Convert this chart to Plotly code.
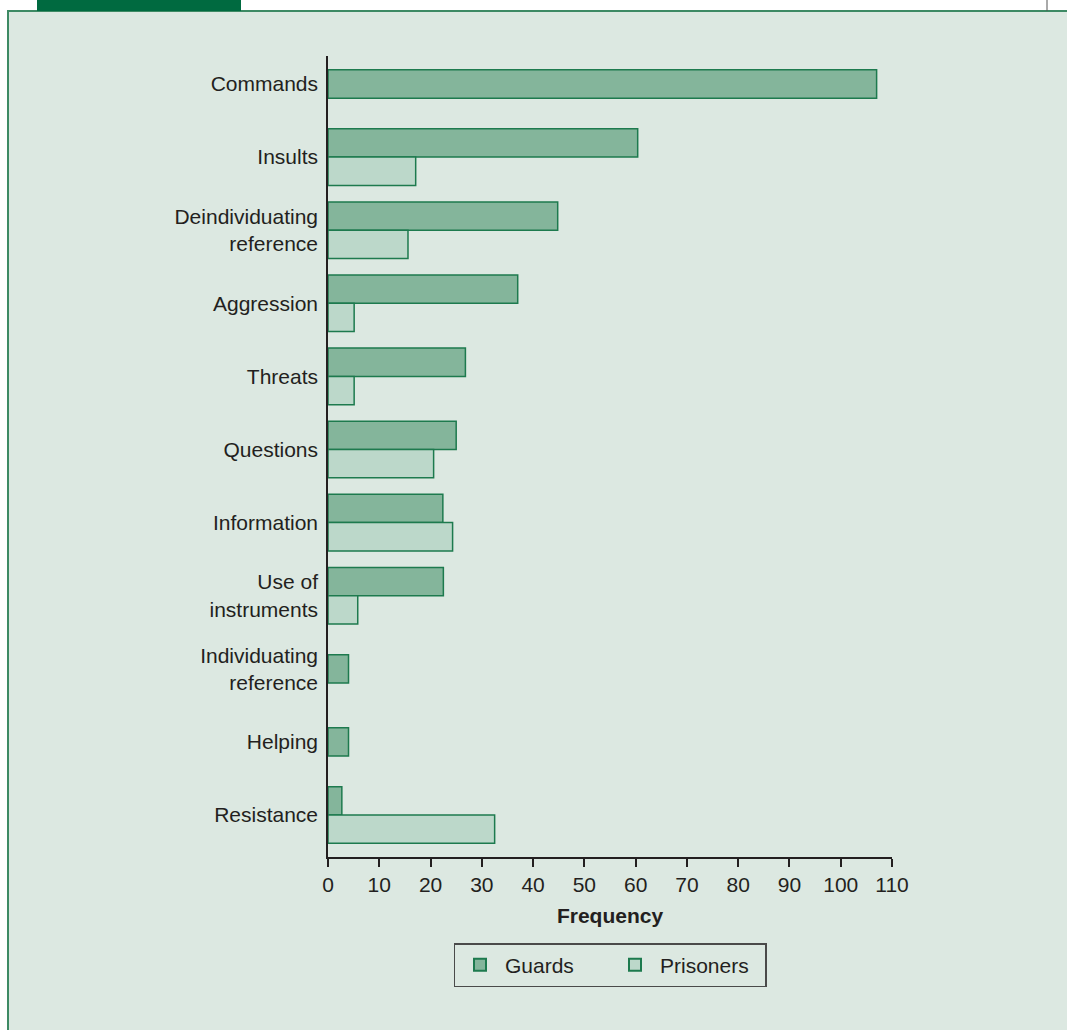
import plotly.graph_objects as go

# ---- data ----
categories = ["Commands", "Insults", "Deindividuating<br>reference", "Aggression",
              "Threats", "Questions", "Information", "Use of<br>instruments",
              "Individuating<br>reference", "Helping", "Resistance"]
guards = [107, 60.4, 44.8, 37, 26.8, 25, 22.4, 22.5, 4, 4, 2.7]
prisoners = [None, 17.1, 15.6, 5.1, 5.1, 20.6, 24.3, 5.8, None, None, 32.5]
x_ticks = list(range(0, 111, 10))

# ---- layout constants (pixels) ----
W, H = 1067, 1030
L, R, T, B = 328, 892, 56, 857
BG = "#dce8e1"
GUARD_FILL = "#84b59b"
PRIS_FILL = "#bcd8ca"
EDGE = "#1d7a4e"
TXT = "#231f20"
FONT = "Liberation Sans, Arial, sans-serif"
FS = 21

def px(xp):
    return (xp - L) / (R - L)

def py(yp):
    return (B - yp) / (B - T)

bw = 0.387
g_offset = [-bw if p is not None else -bw / 2 for p in prisoners]

fig = go.Figure()
fig.add_trace(go.Bar(
    y=categories, x=guards, orientation="h", name="Guards",
    width=bw, offset=g_offset,
    marker=dict(color=GUARD_FILL, line=dict(color=EDGE, width=1.5)),
    hoverinfo="x+y",
))
fig.add_trace(go.Bar(
    y=categories, x=prisoners, orientation="h", name="Prisoners",
    width=bw, offset=0,
    marker=dict(color=PRIS_FILL, line=dict(color=EDGE, width=1.5)),
    hoverinfo="x+y",
))

n = len(categories)
spacing = (815 - 84) / (n - 1)
y_top = 0 - (84 - T) / spacing
y_bot = (n - 1) + (B - 815) / spacing

shapes = [
    # framed panel
    dict(type="rect", xref="paper", yref="paper", layer="below",
         x0=px(8), x1=px(W + 20), y0=py(H + 20), y1=py(11),
         fillcolor=BG, line=dict(color="#3d8a64", width=2)),
    # header tab
    dict(type="rect", xref="paper", yref="paper", layer="below",
         x0=px(37), x1=px(241), y0=py(11), y1=py(-5),
         fillcolor="#006a40", line=dict(width=0)),
    # small right marker
    dict(type="line", xref="paper", yref="paper", layer="below",
         x0=px(1047), x1=px(1047), y0=py(11), y1=py(-5),
         line=dict(color="#555555", width=1)),
]

fig.update_layout(
    width=W, height=H,
    margin=dict(l=L, r=W - R, t=T, b=H - B, pad=0),
    paper_bgcolor="white",
    plot_bgcolor="rgba(0,0,0,0)",
    barmode="overlay",
    font=dict(family=FONT, size=FS, color=TXT),
    shapes=shapes,
    showlegend=True,
    legend=dict(
        orientation="h", x=0.5, xanchor="center", y=py(965), yanchor="middle",
        bgcolor="rgba(0,0,0,0)", bordercolor="#4a4a4a", borderwidth=1.5,
        font=dict(family=FONT, size=FS, color=TXT),
        itemsizing="constant", itemwidth=40,
        entrywidth=100, entrywidthmode="pixels",
    ),
    xaxis=dict(
        range=[0, 110], tickvals=x_ticks, showgrid=False, zeroline=False,
        showline=True, linecolor=TXT, linewidth=1.5,
        ticks="outside", ticklen=8, tickwidth=1.5, tickcolor=TXT,
        tickfont=dict(family=FONT, size=FS, color=TXT),
        title=dict(text="<b>Frequency</b>", standoff=13,
                   font=dict(family=FONT, size=FS, color=TXT)),
        fixedrange=True,
    ),
    yaxis=dict(
        type="category", range=[y_bot, y_top], showgrid=False, zeroline=False,
        showline=True, linecolor=TXT, linewidth=1.5, ticks="",
        ticklabelstandoff=4,
        tickfont=dict(family=FONT, size=FS, color=TXT),
        fixedrange=True,
    ),
)

fig.write_html("out.html", config={"displayModeBar": False},
               post_script="document.body.style.margin='0';document.body.style.overflow='hidden';")
